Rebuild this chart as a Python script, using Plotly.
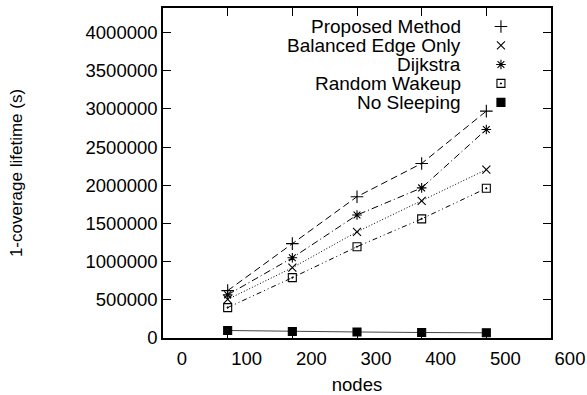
import plotly.graph_objects as go

# ---- data ----
nodes = [100, 200, 300, 400, 500]
proposed = [620000, 1235000, 1850000, 2285000, 2970000]
balanced = [505000, 920000, 1390000, 1795000, 2205000]
dijkstra = [565000, 1050000, 1610000, 1965000, 2730000]
random_wakeup = [398000, 790000, 1195000, 1560000, 1960000]
no_sleeping = [98000, 86000, 79000, 72000, 68000]

series_names = ["Proposed Method", "Balanced Edge Only", "Dijkstra", "Random Wakeup", "No Sleeping"]
x_ticks = [0, 100, 200, 300, 400, 500, 600]
y_ticks = [0, 500000, 1000000, 1500000, 2000000, 2500000, 3000000, 3500000, 4000000]

FONT = "Liberation Sans, Arial, Helvetica, sans-serif"

styles = [
    dict(symbol="cross-thin", size=9, dash="7px,4px", color="#000"),
    dict(symbol="x-thin", size=8, dash="1px,2px", color="#000"),
    dict(symbol="asterisk", size=8, dash="7px,3px,1px,3px", color="#000"),
    dict(symbol="square-open-dot", size=8, dash="5px,3px,1px,3px,1px,3px", color="#000"),
    dict(symbol="square", size=8, dash="solid", color="#444"),
]
values = [proposed, balanced, dijkstra, random_wakeup, no_sleeping]

fig = go.Figure()
for name, vals, st in zip(series_names, values, styles):
    fig.add_trace(go.Scatter(
        x=nodes, y=vals, name=name, mode="lines+markers",
        line=dict(color=st["color"], width=1, dash=st["dash"]),
        marker=dict(symbol=st["symbol"], size=st["size"], color="#000",
                    line=dict(color="#000", width=1.1)),
        showlegend=False,
    ))

# custom legend (text right-aligned, sample symbol at the right), in an overlay 0..1 frame
leg_text_x = 0.773
leg_sym_x = 0.871
leg_top = 0.944
leg_step = 0.0575
for i, (name, st) in enumerate(zip(series_names, styles)):
    yy = leg_top - i * leg_step
    fig.add_annotation(x=leg_text_x, y=yy, xref="paper", yref="paper", text=name,
                       showarrow=False, xanchor="right", yanchor="middle",
                       font=dict(family=FONT, size=19, color="#000"))
    fig.add_trace(go.Scatter(
        x=[leg_sym_x], y=[yy], xaxis="x2", yaxis="y2", mode="markers",
        marker=dict(symbol=st["symbol"], size=st["size"], color="#000",
                    line=dict(color="#000", width=1.1)),
        showlegend=False, hoverinfo="skip"))

axis_common = dict(
    showline=True, linecolor="#000", linewidth=1.5, mirror="allticks",
    ticks="inside", ticklen=8, tickwidth=1, tickcolor="#000",
    showgrid=False, zeroline=False, automargin=False,
    tickfont=dict(family=FONT, size=18.5, color="#000"),
)

fig.update_layout(
    width=587, height=395,
    margin=dict(l=163, r=36, t=8, b=57),
    paper_bgcolor="white", plot_bgcolor="white",
    font=dict(family=FONT, size=18, color="#000"),
    xaxis=dict(range=[0, 600], tickvals=x_ticks, ticklabelshift=19, ticklabelstandoff=3,
               title=dict(text="nodes", font=dict(family=FONT, size=18.5), standoff=17),
               **axis_common),
    yaxis=dict(range=[0, 4320000], tickvals=y_ticks, tickformat="d",
               title=dict(text="1-coverage lifetime (s)", font=dict(family=FONT, size=17), standoff=59),
               **axis_common),
    xaxis2=dict(range=[0, 1], overlaying="x", visible=False),
    yaxis2=dict(range=[0, 1], overlaying="y", visible=False),
    showlegend=False,
)

fig.write_html("out.html", config={"displayModeBar": False},
               post_script="document.body.style.margin='0';document.body.style.overflow='hidden';")
